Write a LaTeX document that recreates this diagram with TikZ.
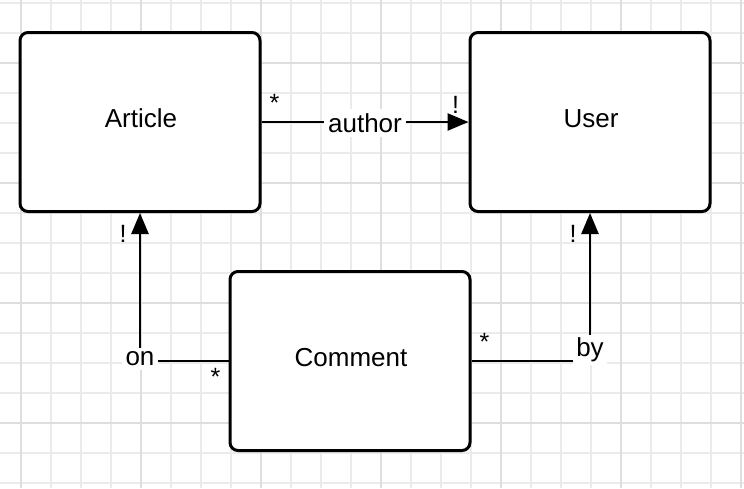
\documentclass[tikz,border=0pt]{standalone}
\usepackage{fontspec}
\setmainfont{Liberation Sans}
\usetikzlibrary{arrows.meta}
\begin{document}
\begin{tikzpicture}[x=1pt,y=-1pt,
  minorgrid/.style={draw=black!8,line width=1.2pt},
  majorgrid/.style={draw=black!13,line width=1.4pt},
  entity/.style={draw=black,fill=white,line width=3pt,rounded corners=8pt,
    minimum width=240pt,minimum height=179pt},
  etext/.style={inner sep=0pt,font=\fontsize{26}{30}\selectfont},
  conn/.style={line width=2.6pt,draw=black},
  arr/.style={conn,-{Triangle[length=21pt,width=17pt]}},
  lab/.style={fill=white,inner sep=4pt,font=\fontsize{26}{30}\selectfont},
  mult/.style={inner sep=0pt,font=\fontsize{25}{29}\selectfont}]
\useasboundingbox (0,0) rectangle (744,488);
\fill[white] (0,0) rectangle (744,488);
\foreach \x in {21,51,...,741} \draw[minorgrid] (\x,0) -- (\x,488);
\foreach \y in {3,33,...,483} \draw[minorgrid] (0,\y) -- (744,\y);
\foreach \x in {21,141,...,741} \draw[majorgrid] (\x,0) -- (\x,488);
\foreach \y in {63,183,...,483} \draw[majorgrid] (0,\y) -- (744,\y);

\node[entity] (article) at (140,122) {};
\node[entity] (user) at (590,122) {};
\node[entity] (comment) at (350,361) {};
\node[etext] (tarticle) at (141,118) {Article};
\node[etext] (tuser) at (591,119) {User};
\node[etext] (tcomment) at (351,358) {Comment};

\draw[arr] (article.east) -- node[lab,pos=0.5,yshift=-1pt] (lauthor) {author} (user.west);
\draw[arr] (comment.west) -| node[lab,pos=0.5,yshift=2pt] (lon) {on} (article.south);
\draw[arr] (comment.east) -| node[lab,pos=0.5,yshift=11pt,inner sep=3pt] (lby) {by} (user.south);

\node[mult] (m1) at ([shift={(13,-19)}]article.east) {*};
\node[mult] (m2) at ([shift={(-13,-17)}]user.west) {!};
\node[mult] (m3) at ([shift={(-17,21)}]article.south) {!};
\node[mult] (m4) at ([shift={(-13,16)}]comment.west) {*};
\node[mult] (m5) at ([shift={(-17,21)}]user.south) {!};
\node[mult] (m6) at ([shift={(13,-19)}]comment.east) {*};
\end{tikzpicture}
\end{document}
